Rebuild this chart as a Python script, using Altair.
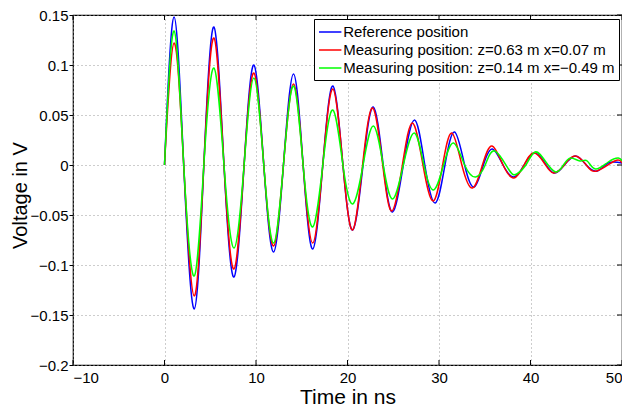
import altair as alt
import pandas as pd

# ---- data ----
x_ticks = [-10, 0, 10, 20, 30, 40, 50]
y_ticks = [-0.2, -0.15, -0.1, -0.05, 0, 0.05, 0.1, 0.15]

series_names = [
    "Reference position",
    "Measuring position: z=0.63 m x=0.07 m",
    "Measuring position: z=0.14 m x=\u22120.49 m",
]
series_colors = ["#0000ff", "#ff0000", "#00ff00"]

t_ref = [0, 1.05, 2.1, 3.25, 4.3, 5.4, 6.5, 7.6, 8.7, 9.77, 10.85, 11.92, 13.0, 14.1, 15.15,
         16.2, 17.3, 18.4, 19.5, 20.57, 21.7, 22.82, 23.9, 24.93, 26.1, 27.33, 28.45, 29.59,
         30.65, 31.7, 32.8, 33.84, 34.85, 35.84, 37.0, 38.2, 39.3, 40.4, 41.5, 42.56, 43.7,
         44.93, 46.1, 47.3, 48.5, 50.0]
v_ref = [0, 0.148, 0, -0.144, 0, 0.138, 0, -0.112, 0, 0.100, 0, -0.087, 0, 0.091, 0,
         -0.084, 0, 0.079, 0, -0.065, 0, 0.058, 0, -0.047, 0, 0.045, 0, -0.038,
         0, 0.033, 0, -0.022, 0, 0.016, 0, -0.012, 0, 0.012, 0.003, -0.008, 0,
         0.009, 0, -0.006, 0.002, 0.002]

t_m1 = [0, 1.05, 2.1, 3.25, 4.3, 5.4, 6.5, 7.6, 8.7, 9.77, 10.85, 11.92, 13.0, 14.1, 15.15,
        16.2, 17.3, 18.4, 19.5, 20.55, 21.65, 22.75, 23.85, 24.85, 26.0, 27.1, 28.25, 29.37,
        30.4, 31.4, 32.5, 33.66, 34.75, 35.8, 37.0, 38.2, 39.3, 40.35, 41.5, 42.5, 43.7,
        44.85, 46.1, 47.25, 49.2, 50.0]
v_m1 = [0, 0.122, 0, -0.131, 0, 0.127, 0, -0.104, 0, 0.092, 0, -0.081, 0, 0.081, 0,
        -0.078, 0, 0.076, 0, -0.065, 0, 0.057, 0, -0.046, 0, 0.042, 0, -0.036,
        0, 0.032, 0, -0.023, 0, 0.019, 0, -0.013, 0, 0.012, 0.002, -0.008, 0,
        0.009, 0, -0.006, 0.004, 0.002]

t_m2 = [0, 1.05, 2.1, 3.25, 4.3, 5.4, 6.5, 7.6, 8.7, 9.77, 10.85, 11.92, 13.0, 14.1, 15.15,
        16.2, 17.3, 18.4, 19.5, 20.57, 21.7, 22.82, 23.9, 24.93, 26.1, 27.3, 28.35, 29.4,
        30.5, 31.6, 32.8, 34.0, 35.05, 36.1, 37.66, 38.5, 39.5, 40.5, 41.6, 42.75, 43.6,
        44.4, 45.4, 46.2, 47.1, 48.5, 49.6, 50.0]
v_m2 = [0, 0.134, 0, -0.111, 0, 0.097, 0, -0.083, 0, 0.087, 0, -0.078, 0, 0.079, 0,
        -0.062, 0, 0.055, 0, -0.039, 0, 0.039, 0, -0.034, 0, 0.032, 0, -0.025,
        0, 0.022, 0, -0.012, 0, 0.014, -0.005, -0.009, 0, 0.013, 0.004, -0.007, 0,
        0.007, 0.004, 0.004, -0.004, 0.003, 0.007, 0.004]

FONT = "Liberation Sans"
W, H = 549, 350

xs = alt.Scale(domain=[-10, 50], nice=False, zero=False)
ys = alt.Scale(domain=[-0.2, 0.15], nice=False, zero=False)
cs = alt.Scale(domain=series_names, range=series_colors)

x_axis = alt.Axis(values=x_ticks, format="d", grid=True, gridDash=[1, 3], gridColor="#9a9a9a",
                  gridWidth=1, ticks=False, domain=False, labelPadding=5, labelFontSize=15,
                  labelFont=FONT, labelColor="black", title="Time in ns", titleFontSize=21,
                  titleFont=FONT, titleFontWeight="normal", titleColor="black", titlePadding=1)
y_axis = alt.Axis(values=y_ticks, format=".2~f", grid=True, gridDash=[1, 3], gridColor="#9a9a9a",
                  gridWidth=1, ticks=True, tickSize=4, tickColor="black", domain=False,
                  labelPadding=1, labelFontSize=15, labelFont=FONT, labelColor="black",
                  title="Voltage in V", titleFontSize=20, titleFont=FONT,
                  titleFontWeight="normal", titleColor="black", titleX=-43, titleY=180,
                  titleBaseline="bottom")

legend = alt.Legend(orient="none", legendX=241, legendY=4, title=None,
                    symbolType="M-1.4,0L1.4,0", symbolSize=256, symbolOffset=3.2,
                    symbolStrokeWidth=1.5, labelFont=FONT, labelFontSize=15,
                    labelColor="black", labelLimit=0, strokeColor="black", fillColor="white",
                    padding=4, rowPadding=1, labelOffset=4, cornerRadius=0)


def series_line(name, t, v):
    df = pd.DataFrame({"t": t, "v": v, "series": name})
    return alt.Chart(df).mark_line(interpolate="natural", strokeWidth=1.5, clip=True).encode(
        x=alt.X("t:Q", scale=xs, axis=x_axis),
        y=alt.Y("v:Q", scale=ys, axis=y_axis),
        color=alt.Color("series:N", scale=cs, legend=legend),
    )


lines = [
    series_line(series_names[0], t_ref, v_ref),
    series_line(series_names[1], t_m1, v_m1),
    series_line(series_names[2], t_m2, v_m2),
]

xt = pd.DataFrame({"t": x_ticks})
yt = pd.DataFrame({"v": y_ticks})
tick_bottom = alt.Chart(xt).mark_rule(color="black", strokeWidth=1).encode(
    x=alt.X("t:Q", scale=xs, axis=x_axis), y=alt.value(H), y2=alt.value(H - 5))
tick_top = alt.Chart(xt).mark_rule(color="black", strokeWidth=1).encode(
    x=alt.X("t:Q", scale=xs, axis=x_axis), y=alt.value(0), y2=alt.value(5))
tick_right = alt.Chart(yt).mark_rule(color="black", strokeWidth=1).encode(
    y=alt.Y("v:Q", scale=ys, axis=y_axis), x=alt.value(W), x2=alt.value(W - 5))

chart = alt.layer(*lines, tick_bottom, tick_top, tick_right).properties(
    width=W, height=H,
    autosize=alt.AutoSizeParams(type="none"),
    padding={"left": 65, "top": 7, "right": 0, "bottom": 44},
    background="white",
).configure_view(stroke="black", strokeWidth=1.2)

chart.save("out.html", embed_options={"renderer": "svg", "actions": False})
